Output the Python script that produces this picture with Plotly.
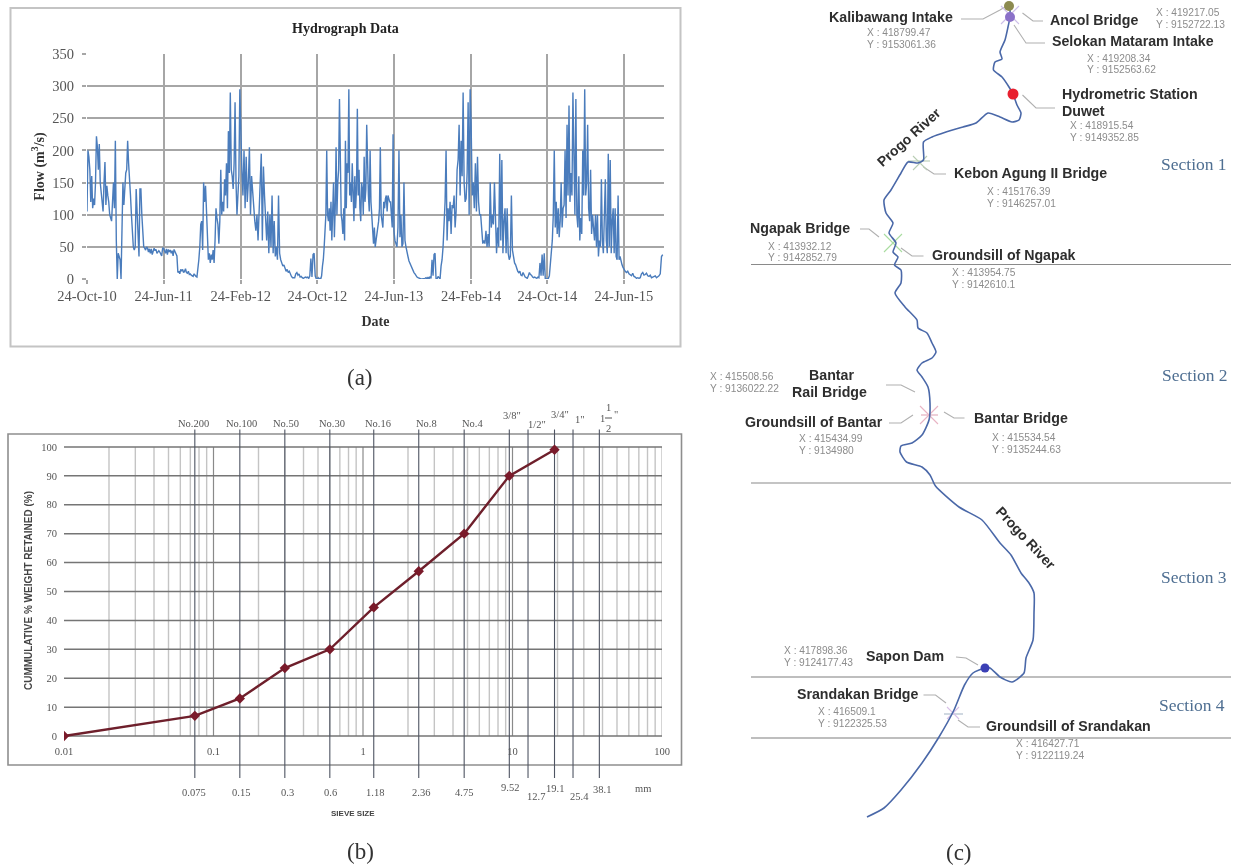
import numpy as np
import pandas as pd
import plotly.graph_objects as go

W, H = 1235, 867

# ---------- panel (a): hydrograph ----------
tick_dates = ["2010-10-24", "2011-06-24", "2012-02-24", "2012-10-24",
              "2013-06-24", "2014-02-24", "2014-10-24", "2015-06-24", "2015-10-29"]
tick_labels_a = ["24-Oct-10", "24-Jun-11", "24-Feb-12", "24-Oct-12",
                 "24-Jun-13", "24-Feb-14", "24-Oct-14", "24-Jun-15"]
flow_1 = [105,200,190,170,120,160,110,125,115,150,222,205,170,210,150,135,120,105,150,182,
          115,145,130,120,100,95,90,120,150,110,215,60,0,40,35,30,0,90,150,115,
          140,165,170,215,180,160,130,100,60,50,45,50,140,100,60,35,140,140,100,60,
          50,48,45,50,48,42,47,40,47,38,45,48,44,46,40,42,44,42,38,36,48]
flow_2 = [48,44,40,47,38,46,42,45,40,44,36,46,42,38,36,10,12,8,15,12,
          15,10,12,16,10,9,12,7,8,6,5,4,8,5,4,3,15,30,50,85,
          90,45,150,120,145,95,75,30,40,25,38,30,45,25,60,110,95,85,55,90,
          170,100,120,105,155,130,180,110,230,165,290,170,160,140,180,275,150,100,130,160,295]
flow_3 = [210,170,130,200,110,190,120,150,205,100,160,130,100,90,75,100,60,110,130,195,
          60,175,130,100,60,105,40,100,50,130,40,90,35,50,30,130,40,30,25,20,
          22,17,12,15,10,12,6,4,2,2,2,8,10,6,8,3,4,2,1,2,
          3,2,3,1,5,32,3,38,40,5,0]
flow_4 = [0,2,0,1,0,5,20,30,50,75,100,200,100,90,110,75,120,60,100,150,
          65,110,205,100,150,170,280,120,100,90,70,110,60,215,110,180,165,295,130,150,
          120,180,110,90,160,110,140,265,130,170,110,90,150,140,100,190,120,140,240,170,
          130,105,200,120,100,75,55,80,50,60,70,80,90,110,205,100,90,80,120,110,
          125,130,105,130,125,120,120,90,80,225]
flow_5 = [75,60,55,50,80,200,65,100,50,55,150,60,50,40,35,28,24,20,16,12,
          10,8,5,3,2,1,0,0,0,0,0,1,2,0,3,0,4,1,30,5,
          38,40,0,0,4,2,0,20,30,50,90,120,200,60,110,90,120,70,115,110,
          130,80,105,170,185,240,130,215,160,290,150,120,125,165,275,100,295]
flow_6 = [240,130,150,110,180,105,190,120,100,100,70,55,60,55,75,50,70,50,150,80,
          100,85,150,100,40,80,50,195,60,185,40,90,110,40,110,40,30,35,130,45,
          30,25,22,15,12,10,12,6,5,10,6,3,2,1,5,10,7,6,3,2,
          3,2,1,3,2,25,5,38,5,40,0,0]
flow_7 = [0,1,5,20,35,60,100,200,80,120,70,110,65,90,150,80,110,115,200,95,
          240,130,270,120,165,130,290,150,100,280,100,80,160,60,95,70,200,130,295,130,
          150,240,110,90,170,70,100,80,60,100,50,100,35,60,50,155,60,40,100,155,
          60,40,195,50,185,40,90,110,40,110,35,30,130,30,35,25,22,18]
flow_8 = [15,12,10,12,8,6,5,9,4,3,1,2,1,2,8,10,6,7,9,5,4,6,2,3,4,5,2,3,5,8,35,38]
flow_parts = [flow_1, flow_2, flow_3, flow_4, flow_5, flow_6, flow_7, flow_8]

# ---------- panel (b): grading curve ----------
sieve_mm = [0.01, 0.075, 0.15, 0.3, 0.6, 1.18, 2.36, 4.75, 9.52, 19.1]
retained = [0, 7, 13, 23.5, 30, 44.5, 57, 70, 90, 99]
sieve_lines = [0.075, 0.15, 0.3, 0.6, 1.18, 2.36, 4.75, 9.52, 12.7, 19.1, 25.4, 38.1]
decade_ticks = [0.01, 0.1, 1, 10, 100]
decade_labels = ["0.01", "0.1", "1", "10", "100"]
pct_ticks = list(range(0, 101, 10))
top_labels = [("No.200",193,423),("No.100",241,423),("No.50",286,423),("No.30",332,423),
              ("No.16",378,423),("No.8",426,423),("No.4",472,423),('3/8"',512,415),
              ('1/2"',537,424),('3/4"',560,414),('1"',580,419),("1",602,418),("1",608,407),
              ("2",608,428),('"',616,414)]
bottom_labels = [("0.075",194,792),("0.15",241,792),("0.3",287,792),("0.6",330,792),
                 ("1.18",375,792),("2.36",421,792),("4.75",464,792),("9.52",510,787),
                 ("12.7",536,796),("19.1",555,788),("25.4",579,796),("38.1",602,789),("mm",643,788)]

# ---------- panel (c): river map, in picture units ----------
river_x = [1010,1010,1008,1005,1000,1002,995,993.5,1002,1009,1013,1017,1021,1019,1012,1000,988,976,963,946,
           932,923.5,923.5,918,908,901,891,884,886,893,889,896,893,898,894.5,901,901,895,905,917,
           918,927,932,936,932,922,917,922,928,930,929,922,912,901,900,906.5,922,930,935.5,959,
           982,1000,1011,1021,1029,1034,1034,1033,1026,1024,1012,1000,990,985,973,964.5,954,939,922,901,884,867]
river_y = [7,17,27,40,52,59,62,70,77,87,94,105,113,120,122,117,113,123,127,132,
           137,142,160,163,162,173,190,200,213,223,233,243,252,257,265,270,283,293,307,320,
           328,333,343,352,358,363,370,377,387,403,420,435,443,446,452,462,467,475,486,507,
           520,543,555,573,583,593,613,640,658,673,682,677,668,668,673,685,710,737,763,790,808,817]
section_y = [264.5, 483, 677, 738]
section_x = [751, 1231]
leaders = [[(961,19),(983,19),(1000,10),(1005,7)], [(1043,21),(1033,21),(1022.5,13)],
           [(1045,43),(1026,43),(1014,25)], [(1055,108),(1036,108),(1022.5,95)],
           [(946,174),(934,174),(923.5,167)], [(860,229),(869,229),(879,237)],
           [(923.5,256),(912,256),(901,248)], [(886,385),(901,385),(915,392)],
           [(889,423),(901,423),(913,415)], [(964.5,418),(954,418),(944,412)],
           [(956,657),(966,658),(978,665)], [(923.5,695),(935.5,695),(946,703)],
           [(980,727),(968,727),(958,720)]]
names = [("Kalibawang Intake",829,17),("Ancol Bridge",1050,20),("Selokan Mataram Intake",1051.5,41),
         ("Hydrometric Station",1062,94),("Duwet",1062,111),("Kebon Agung II Bridge",954,173),
         ("Ngapak Bridge",749.5,228),("Groundsill of Ngapak",932,255),("Bantar",809,375),
         ("Rail Bridge",791.5,392),("Groundsill of Bantar",745,422),("Bantar Bridge",974,418),
         ("Sapon Dam",865.5,656),("Srandakan Bridge",796.5,694),("Groundsill of Srandakan",986,726)]
coords = [("X : 418799.47",867,32),("Y : 9153061.36",867,44),("X : 419217.05",1156,12),("Y : 9152722.13",1156,24),
          ("X : 419208.34",1087,58),("Y : 9152563.62",1087,69),("X : 418915.54",1070,125),("Y : 9149352.85",1070,137),
          ("X : 415176.39",987,191),("Y : 9146257.01",987,203),("X : 413932.12",768,246),("Y : 9142852.79",768,257),
          ("X : 413954.75",952,272),("Y : 9142610.1",952,284),("X : 415508.56",710,376),("Y : 9136022.22",710,388),
          ("X : 415434.99",799,438),("Y : 9134980",799,450),("X : 415534.54",992,437),("Y : 9135244.63",992,449),
          ("X : 417898.36",784,650),("Y : 9124177.43",784,662),("X : 416509.1",818,711),("Y : 9122325.53",818,723),
          ("X : 416427.71",1016,743),("Y : 9122119.24",1016,755)]
sections = [("Section 1",1161,164),("Section 2",1162,375),("Section 3",1161,577),("Section 4",1159,705)]
river_names = [("Progo River",909,137,-42),("Progo River",1026,538,47)]
captions = [("(a)",360,377),("(b)",360,851),("(c)",959,852)]
stations = [(1009,6,"#8c8a50",10,"circle"),(1010,17,"#8a70c8",10,"circle"),
            (1013,94,"#e8202f",11,"circle"),(985,668,"#3b3fb5",9,"circle")]
crossings = [(920,163,"#b9cdb4",14),(893,243,"#a9dca0",18),(1010,15,"#cdbfe8",18),(929,415,"#e8b4c4",18),(953,713,"#d8c0e8",12)]
crossbars = [[(908,161),(930,161)],[(921,415),(938,415)],[(944,714),(963,714)]]

def fx(x): return x / W
def fy(y): return 1 - y / H

fig = go.Figure()

# panel (a) series
x_parts, y_parts = [], []
for i, part in enumerate(flow_parts):
    t0 = pd.Timestamp(tick_dates[i]); t1 = pd.Timestamp(tick_dates[i + 1])
    x_parts.extend(t0 + (t1 - t0) * k / len(part) for k in range(len(part)))
    y_parts.extend(part)
fig.add_trace(go.Scatter(x=x_parts, y=y_parts, mode="lines", xaxis="x", yaxis="y",
                         line=dict(color="#4a7cbc", width=1.4), showlegend=False))

# panel (b) rules
def rules(vals, lo, hi):
    xs, ys = [], []
    for v in vals:
        xs += [v, v, None]; ys += [lo, hi, None]
    return xs, ys

minor = [m * 10.0 ** e for e in range(-2, 2) for m in range(2, 10)] + [100]
for vals, lo, hi, col, wd in [(minor, 0, 100, "#c4c4c4", 1.4),
                              ([0.1, 1, 10], 0, 100, "#8a8a8a", 1.2)]:
    xs, ys = rules(vals, lo, hi)
    fig.add_trace(go.Scatter(x=xs, y=ys, mode="lines", xaxis="x2", yaxis="y2",
                             line=dict(color=col, width=wd), showlegend=False))
hy, hx = rules(pct_ticks, decade_ticks[0], decade_ticks[-1])
fig.add_trace(go.Scatter(x=hx, y=hy, mode="lines", xaxis="x2", yaxis="y2",
                         line=dict(color="#757575", width=1.5), showlegend=False))
xs, ys = rules(sieve_lines, -14.5, 106)
fig.add_trace(go.Scatter(x=xs, y=ys, mode="lines", xaxis="x2", yaxis="y2",
                         line=dict(color="#4e5462", width=1.1), showlegend=False))
fig.add_trace(go.Scatter(x=sieve_mm, y=retained, mode="lines+markers", xaxis="x2", yaxis="y2",
                         line=dict(color="#6e1f2b", width=2.4),
                         marker=dict(symbol="diamond", size=8, color="#7a1a2a"), showlegend=False))

# panel (c) map
for y in section_y:
    fig.add_trace(go.Scatter(x=section_x, y=[y, y], mode="lines", xaxis="x3", yaxis="y3",
                             line=dict(color="#a8a8a8" if y > 600 else "#8a8a8a", width=1.6 if y > 600 else 1.1),
                             showlegend=False))
for seg in leaders:
    fig.add_trace(go.Scatter(x=[p[0] for p in seg], y=[p[1] for p in seg], mode="lines", xaxis="x3", yaxis="y3",
                             line=dict(color="#b0b0b0", width=1.1), showlegend=False))
for seg, col in zip(crossbars, ["#b9cdb4", "#e0a8b8", "#a9b8c8"]):
    fig.add_trace(go.Scatter(x=[p[0] for p in seg], y=[p[1] for p in seg], mode="lines", xaxis="x3", yaxis="y3",
                             line=dict(color=col, width=1.1), showlegend=False))
for cx, cy, col, sz in crossings:
    fig.add_trace(go.Scatter(x=[cx], y=[cy], mode="markers", xaxis="x3", yaxis="y3",
                             marker=dict(symbol="x-thin", size=sz, line=dict(color=col, width=1.1)), showlegend=False))
fig.add_trace(go.Scatter(x=river_x, y=river_y, mode="lines", xaxis="x3", yaxis="y3",
                         line=dict(color="#4a68a8", width=1.6, shape="spline", smoothing=0.6), showlegend=False))
for sx, sy, col, sz, sym in stations:
    fig.add_trace(go.Scatter(x=[sx], y=[sy], mode="markers", xaxis="x3", yaxis="y3",
                             marker=dict(symbol=sym, size=sz, color=col), showlegend=False))

ann = []
def label(items, size, color, family, bold=False, anchor="left", angle=0):
    for t, x, y in items:
        txt = f"<b>{t}</b>" if bold else t
        ann.append(dict(text=txt, x=x, y=y, xref="x3", yref="y3", showarrow=False, xanchor=anchor,
                        yanchor="middle", borderpad=0, borderwidth=0, textangle=angle,
                        font=dict(size=size, color=color, family=family)))

SANS, SERIF = "Liberation Sans", "Liberation Serif"
label(names, 14.2, "#2e2e2e", SANS, bold=True)
label(coords, 10.2, "#8c8c8c", SANS)
label(sections, 17.5, "#4f6f92", SERIF)
label(captions, 23, "#333333", SERIF, anchor="center")
label(top_labels, 10.5, "#555555", SERIF, anchor="center")
label(bottom_labels, 10.5, "#555555", SERIF, anchor="center")
label([("SIEVE SIZE", 353, 813)], 8, "#444444", SANS, bold=True, anchor="center")
label([("Hydrograph Data", 345, 28)], 14, "#222222", SERIF, bold=True, anchor="center")
label([("CUMMULATIVE % WEIGHT RETAINED (%)", 28, 591)], 10, "#444444", SANS, bold=True, anchor="center", angle=-90)
for t, x, y, ang in river_names:
    ann.append(dict(text=f"<b>{t}</b>", x=x, y=y, xref="x3", yref="y3", showarrow=False, textangle=ang,
                    font=dict(size=14, color="#2e2e2e", family=SANS)))

shapes = [
    dict(type="rect", xref="paper", yref="paper", x0=fx(10.5), x1=fx(680.5), y0=fy(346.5), y1=fy(8),
         line=dict(color="#c4c4c4", width=2), layer="below"),
    dict(type="rect", xref="paper", yref="paper", x0=fx(8), x1=fx(681.5), y0=fy(765), y1=fy(434),
         line=dict(color="#8e8e8e", width=1.6), layer="below"),
    dict(type="line", xref="x3", yref="y3", x0=605, x1=612, y0=418, y1=418, line=dict(color="#555555", width=1)),
]

grid_a = dict(gridcolor="#a6a6a6", gridwidth=1.5, zeroline=False, showline=False, ticks="outside",
              ticklen=4, tickcolor="#a6a6a6", tickwidth=1.5, automargin=False)
fig.update_layout(
    width=W, height=H, margin=dict(l=0, r=0, t=0, b=0, pad=0, autoexpand=False), paper_bgcolor="white",
    plot_bgcolor="rgba(0,0,0,0)",
    showlegend=False, annotations=ann, shapes=shapes, hovermode=False,
    xaxis=dict(domain=[fx(87), fx(664)], range=[tick_dates[0], tick_dates[-1]], type="date", anchor="y",
               tickvals=tick_dates[:-1], ticktext=tick_labels_a, tickangle=0,
               tickfont=dict(family=SERIF, size=14.5, color="#555555"),
               title=dict(text="<b>Date</b>", font=dict(family=SERIF, size=14, color="#333333"), standoff=12), **grid_a),
    yaxis=dict(domain=[fy(279), fy(54)], range=[0, 350], anchor="x", tickvals=list(range(0, 351, 50)),
               ticklabelstandoff=5, tickfont=dict(family=SERIF, size=14.5, color="#555555"),
               title=dict(text="<b>Flow (m<sup>3</sup>/s)</b>", font=dict(family=SERIF, size=14, color="#333333"), standoff=4),
               **grid_a),
    xaxis2=dict(domain=[fx(64), fx(662)], type="log", range=[-2, 2], anchor="free", position=fy(736),
                tickvals=decade_ticks, ticktext=decade_labels, ticks="outside", ticklen=5, automargin=False,
                tickcolor="rgba(0,0,0,0)", showgrid=False, zeroline=False, showline=False,
                tickfont=dict(family=SERIF, size=10.5, color="#555555")),
    yaxis2=dict(domain=[fy(778), fy(429)], range=[-14.5, 106.2], anchor="x2", tickvals=pct_ticks, automargin=False,
                showgrid=False, zeroline=False, showline=False, ticklabelstandoff=6,
                tickfont=dict(family=SERIF, size=10.5, color="#555555")),
    xaxis3=dict(domain=[0, 1], range=[0, W], visible=False, anchor="y3", automargin=False),
    yaxis3=dict(domain=[0, 1], range=[H, 0], visible=False, anchor="x3", automargin=False),
)

fig.write_html("out.html", config={"displayModeBar": False},
               post_script="document.body.style.margin='0';document.documentElement.style.overflow='hidden';"
                           "document.querySelector('.plotly-graph-div').style.filter='blur(0.45px)';")
